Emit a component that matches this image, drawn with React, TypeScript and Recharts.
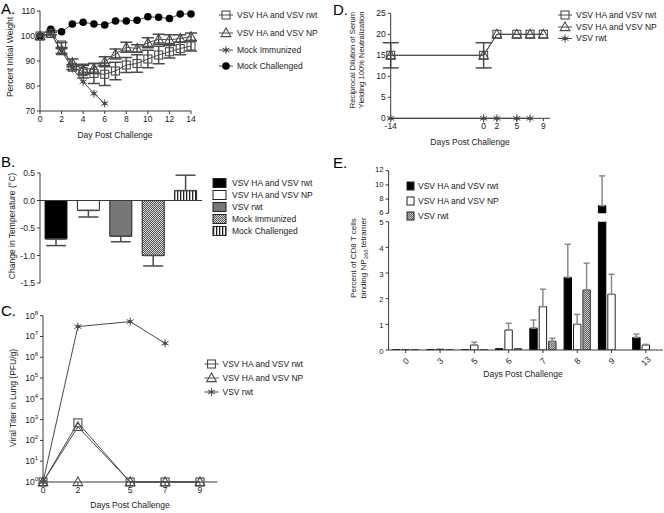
import React from "react";
import {
  Bar,
  BarChart,
  Cell,
  ComposedChart,
  ErrorBar,
  Line,
  ReferenceLine,
  XAxis,
  YAxis,
} from "recharts";

const FONT = "'Liberation Sans', Arial, Helvetica, sans-serif";
const INK = "#1a1a1a";
const AXIS = "#3a3a3a";
const SERIES = "#4a4a4a";
const FS = 8.5;

// ---- A: weight ----
const daysA = [0, 1, 2, 3, 4, 5, 6, 7, 8, 9, 10, 11, 12, 13, 14];
const weightHaRwt = [100, 101, 96.4, 87.5, 85.7, 85, 84.7, 86, 88.4, 89, 90.8, 92.4, 93.7, 95, 96];
const weightHaRwtErr = [0, 0.5, 1, 1, 2.5, 4, 4.5, 3.5, 3, 3.5, 3.5, 3.5, 2.5, 2.5, 2];
const weightHaNp = [100, 101, 94, 89.3, 86.7, 87, 89.7, 92.8, 95.5, 95, 97.3, 98.7, 98.5, 99, 99.7];
const weightHaNpErr = [0, 0.5, 1, 1.5, 2, 2, 2, 2, 2, 1.5, 2, 2, 2, 1.5, 1.5];
const weightMockImm = [100, 101, 94, 87, 81.7, 77, 73];
const weightMockCh = [100, 102.7, 101.7, 104.8, 105.5, 104.8, 104.4, 106, 106, 106.3, 107.7, 107.5, 107, 108.8, 108.8];
const weightTicks = [70, 80, 90, 100, 110];
const dayTicksA = [0, 2, 4, 6, 8, 10, 12, 14];

// ---- B: temperature ----
const groupsB = ["VSV HA  and VSV rwt", "VSV HA and VSV NP", "VSV rwt", "Mock Immunized", "Mock Challenged"];
const tempChange = [-0.7, -0.18, -0.65, -1.0, 0.18];
const tempErr = [0.12, 0.12, 0.1, 0.19, 0.28];
const tempTicks = [-1.5, -1, -0.5, 0, 0.5];
const fillsB = ["#000", "#fff", "#777", "url(#pImm)", "url(#pCh)"];

// ---- C: viral titer ----
const daysC = [0, 2, 5, 7, 9];
const titerHaRwt = [1, 700, 1, 1, 1];
const titerHaNp = [1, 450, 1, 1, 1];
const titerHaNpBase = [null, 1, null, null, null];
const titerRwt = [1, 3e7, 5.2e7, 4.7e6, null];
const titerTicks = [1, 1e1, 1e2, 1e3, 1e4, 1e5, 1e6, 1e7, 1e8];

// ---- D: neutralization ----
const daysD = [-14, 0, 2, 5, 7, 9];
const neutHaRwt = [15, 15, 20, 20, 20, 20];
const neutHaNp = [15, 15, 20, 20, 20, 20];
const neutErr = [3, 3, 0, 0, 0, 0];
const neutRwt = [0, 0, 0, 0, 0, null];
const neutTicks = [0, 5, 10, 15, 20, 25];
const dayTicksD = [-14, 0, 2, 5, 9];

// ---- E: tetramer ----
const daysE = ["0", "3", "5", "6", "7", "8", "9", "13"];
const tetHaRwt = [0.01, 0.02, 0.01, 0.05, 0.85, 2.83, 7.07, 0.49];
const tetHaRwtErr = [0, 0, 0, 0, 0.32, 1.29, 4.2, 0.13];
const tetHaNp = [0.01, 0.03, 0.19, 0.78, 1.69, 1.0, 2.17, 0.19];
const tetHaNpErr = [0, 0, 0.11, 0.26, 0.68, 0.39, 0.78, 0.03];
const tetRwt = [0.01, 0.01, 0.01, 0.05, 0.34, 2.34, null, null];
const tetRwtErr = [0, 0, 0, 0, 0.12, 1.04, 0, 0];
const lowTicksE = [0, 1, 2, 3, 4, 5];
const highTicksE = [6, 8, 10, 12];
const BREAK = 5;

type Kind = "square" | "triangle" | "star" | "circle";

function Glyph({ kind, cx, cy }: { kind: Kind; cx: number; cy: number }) {
  if (kind === "square")
    return <rect x={cx - 4} y={cy - 4} width={8} height={8} fill="none" stroke={SERIES} strokeWidth={1.1} />;
  if (kind === "triangle")
    return (
      <polygon
        points={`${cx},${cy - 5} ${cx - 4.8},${cy + 3.6} ${cx + 4.8},${cy + 3.6}`}
        fill="none"
        stroke={SERIES}
        strokeWidth={1.1}
      />
    );
  if (kind === "circle") return <circle cx={cx} cy={cy} r={3.8} fill="#000" />;
  return (
    <g stroke={SERIES} strokeWidth={1}>
      <line x1={cx} y1={cy - 4} x2={cx} y2={cy + 4} />
      <line x1={cx - 3.5} y1={cy - 2} x2={cx + 3.5} y2={cy + 2} />
      <line x1={cx - 3.5} y1={cy + 2} x2={cx + 3.5} y2={cy - 2} />
      <circle cx={cx} cy={cy} r={1.3} fill={SERIES} />
    </g>
  );
}

const dotOf = (kind: Kind) => (p: any) =>
  p.cx == null || p.cy == null || p.value == null ? (
    <g key={`e${p.index}`} />
  ) : (
    <Glyph key={`d${p.index}`} kind={kind} cx={p.cx} cy={p.cy} />
  );

const tickStyle = { fontSize: FS, fill: INK, fontFamily: FONT };
const axisProps = {
  axisLine: { stroke: AXIS },
  tickLine: { stroke: AXIS },
  tickSize: 3,
  tick: tickStyle,
  interval: 0 as const,
};
const smallTick = { ...tickStyle, fontSize: 7.8 };

const PowTick = (p: any) => {
  const exp = Math.round(Math.log10(p.payload.value));
  return (
    <text x={p.x} y={p.y} dy={3} textAnchor="end" fontSize={FS} fill={INK} fontFamily={FONT}>
      <tspan>10</tspan>
      <tspan dy={-4} fontSize={6}>
        {exp}
      </tspan>
    </text>
  );
};

const SlantTick = (p: any) => (
  <g transform={`translate(${p.x},${p.y + 6}) rotate(-45)`}>
    <text x={0} y={0} dy={3} textAnchor="middle" fontSize={FS} fill={INK} fontFamily={FONT}>
      {p.payload.value}
    </text>
  </g>
);

const lineProps = {
  stroke: SERIES,
  strokeWidth: 1,
  isAnimationActive: false,
  activeDot: false as const,
  type: "linear" as const,
};

function PanelA() {
  const rows = daysA.map((d, i) => ({
    day: d,
    haRwt: weightHaRwt[i],
    haRwtErr: weightHaRwtErr[i],
    haNp: weightHaNp[i],
    haNpErr: weightHaNpErr[i],
    mockImm: weightMockImm[i] ?? null,
    mockCh: weightMockCh[i],
  }));
  return (
    <ComposedChart width={200} height={145} data={rows} margin={{ top: 11, right: 9, bottom: 0, left: 0 }}>
      <XAxis type="number" dataKey="day" domain={[0, 14]} ticks={dayTicksA} height={34} {...axisProps} />
      <YAxis type="number" domain={[70, 110]} ticks={weightTicks} width={40} {...axisProps} />
      <Line dataKey="mockCh" {...lineProps} dot={dotOf("circle")} />
      <Line dataKey="mockImm" {...lineProps} dot={dotOf("star")} />
      <Line dataKey="haRwt" {...lineProps} dot={dotOf("square")}>
        <ErrorBar dataKey="haRwtErr" width={6} stroke={SERIES} direction="y" />
      </Line>
      <Line dataKey="haNp" {...lineProps} dot={dotOf("triangle")}>
        <ErrorBar dataKey="haNpErr" width={6} stroke={SERIES} direction="y" />
      </Line>
    </ComposedChart>
  );
}

function PanelB() {
  const rows = groupsB.map((g, i) => ({
    group: g,
    change: tempChange[i],
    err: tempChange[i] < 0 ? [tempErr[i], 0] : [0, tempErr[i]],
  }));
  return (
    <BarChart width={210} height={125} data={rows} margin={{ top: 8, right: 8, bottom: 7, left: 0 }}>
      <XAxis dataKey="group" hide />
      <YAxis
        type="number"
        domain={[-1.5, 0.5]}
        ticks={tempTicks}
        tickFormatter={(v: number) => v.toFixed(1)}
        width={40}
        {...axisProps}
      />
      <Bar dataKey="change" barSize={22} stroke="#222" strokeWidth={1} isAnimationActive={false}>
        {fillsB.map((f, i) => (
          <Cell key={i} fill={f} />
        ))}
        <ErrorBar dataKey="err" width={10} stroke={SERIES} direction="y" />
      </Bar>
      <ReferenceLine y={0} stroke={AXIS} />
    </BarChart>
  );
}

function PanelC() {
  const rows = daysC.map((d, i) => ({
    day: d,
    haRwt: titerHaRwt[i],
    haNp: titerHaNp[i],
    haNpBase: titerHaNpBase[i],
    rwt: titerRwt[i],
  }));
  return (
    <ComposedChart width={225} height={208} data={rows} margin={{ top: 10.7, right: 7.6, bottom: 0, left: 0 }}>
      <XAxis type="number" dataKey="day" domain={[0, 10]} ticks={daysC} height={31} {...axisProps} />
      <YAxis
        type="number"
        scale="log"
        domain={[1, 1e8]}
        ticks={titerTicks}
        width={43}
        {...axisProps}
        tick={<PowTick />}
      />
      <Line dataKey="rwt" {...lineProps} dot={dotOf("star")} />
      <Line dataKey="haRwt" {...lineProps} dot={dotOf("square")} />
      <Line dataKey="haNp" {...lineProps} dot={dotOf("triangle")} />
      <Line dataKey="haNpBase" {...lineProps} stroke="none" dot={dotOf("triangle")} legendType="none" />
    </ComposedChart>
  );
}

function PanelD() {
  const rows = daysD.map((d, i) => ({
    day: d,
    haRwt: neutHaRwt[i],
    haNp: neutHaNp[i],
    err: neutErr[i],
    rwt: neutRwt[i],
  }));
  return (
    <ComposedChart width={230} height={150} data={rows} margin={{ top: 13.3, right: 10, bottom: 0, left: 0 }}>
      <XAxis type="number" dataKey="day" domain={[-14, 10]} ticks={dayTicksD} height={31.7} {...axisProps} />
      <YAxis type="number" domain={[0, 25]} ticks={neutTicks} width={60.7} {...axisProps} />
      <Line dataKey="rwt" {...lineProps} dot={dotOf("star")} />
      <Line dataKey="haRwt" {...lineProps} dot={dotOf("square")}>
        <ErrorBar dataKey="err" width={8} stroke={SERIES} direction="y" />
      </Line>
      <Line dataKey="haNp" {...lineProps} dot={dotOf("triangle")} />
    </ComposedChart>
  );
}

const errOrNull = (v: number | null, e: number) => (v == null || e <= 0 ? null : [0, e]);

function PanelE() {
  const low = daysE.map((d, i) => ({
    day: d,
    haRwt: tetHaRwt[i],
    haRwtErr: tetHaRwt[i] > BREAK ? null : errOrNull(tetHaRwt[i], tetHaRwtErr[i]),
    haNp: tetHaNp[i],
    haNpErr: errOrNull(tetHaNp[i], tetHaNpErr[i]),
    rwt: tetRwt[i],
    rwtErr: errOrNull(tetRwt[i], tetRwtErr[i]),
  }));
  const high = daysE.map((d, i) => ({
    day: d,
    haRwt: tetHaRwt[i] > BREAK ? tetHaRwt[i] : null,
    haRwtErr: tetHaRwt[i] > BREAK ? errOrNull(tetHaRwt[i], tetHaRwtErr[i]) : null,
    haNp: tetHaNp[i] > BREAK ? tetHaNp[i] : null,
    haNpErr: null,
    rwt: tetRwt[i] != null && (tetRwt[i] as number) > BREAK ? tetRwt[i] : null,
    rwtErr: null,
  }));
  const bars = (
    [
      ["haRwt", "#000", "#000"],
      ["haNp", "#fff", "#222"],
      ["rwt", "url(#pRwt)", "#333"],
    ] as const
  ).map(([k, fill, stroke]) => (
    <Bar key={k} dataKey={k} fill={fill} stroke={stroke} strokeWidth={1} isAnimationActive={false}>
      <ErrorBar dataKey={`${k}Err`} width={3} stroke="#8a8a8a" direction="y" />
    </Bar>
  ));
  return (
    <>
      <div style={{ position: "absolute", left: 330, top: 160 }}>
        <BarChart
          width={334}
          height={60}
          data={high}
          barSize={7.4}
          barGap={2}
          margin={{ top: 10.7, right: 1, bottom: 6.7, left: 0 }}
        >
          <XAxis dataKey="day" hide />
          <YAxis
            type="number"
            domain={[6, 12]}
            ticks={highTicksE}
            allowDataOverflow
            width={58.6}
            {...axisProps}
            tick={{ ...smallTick, dy: -1 }}
          />
          {bars}
        </BarChart>
      </div>
      <div style={{ position: "absolute", left: 330, top: 215 }}>
        <BarChart
          width={334}
          height={170}
          data={low}
          barSize={7.4}
          barGap={2}
          margin={{ top: 6.7, right: 1, bottom: 0, left: 0 }}
        >
          <XAxis dataKey="day" height={35} {...axisProps} tick={<SlantTick />} />
          <YAxis
            type="number"
            domain={[0, 5]}
            ticks={lowTicksE}
            allowDataOverflow
            width={58.6}
            {...axisProps}
            tick={{ ...smallTick, dy: 1 }}
          />
          {bars}
        </BarChart>
      </div>
    </>
  );
}

const VText = ({
  x,
  cy,
  lines,
  size = FS,
}: {
  x: number;
  cy: number;
  lines: React.ReactNode[];
  size?: number;
}) => (
  <text x={x} y={cy} transform={`rotate(-90 ${x} ${cy})`} textAnchor="middle" fontSize={size} fill={INK}>
    {lines.map((l, i) => (
      <tspan key={i} x={x} dy={i === 0 ? 0 : size * 1.3}>
        {l}
      </tspan>
    ))}
  </text>
);

const LineLegend = ({ x, ys, kinds, labels }: { x: number; ys: number[]; kinds: Kind[]; labels: string[] }) => (
  <g>
    {ys.map((y, i) => (
      <g key={i}>
        <line x1={x - 7} x2={x + 7} y1={y} y2={y} stroke={SERIES} />
        <Glyph kind={kinds[i]} cx={x} cy={y} />
        <text x={x + 11} y={y} dy="0.35em" fontSize={FS} fill={INK}>
          {labels[i]}
        </text>
      </g>
    ))}
  </g>
);

const BoxLegend = ({
  x,
  ys,
  w,
  h,
  fills,
  labels,
  gap,
}: {
  x: number;
  ys: number[];
  w: number;
  h: number;
  fills: string[];
  labels: string[];
  gap: number;
}) => (
  <g>
    {ys.map((y, i) => (
      <g key={i}>
        <rect x={x} y={y - h / 2} width={w} height={h} fill={fills[i]} stroke="#222" strokeWidth={1} />
        <text x={x + w + gap} y={y} dy="0.35em" fontSize={FS} fill={INK}>
          {labels[i]}
        </text>
      </g>
    ))}
  </g>
);

const Title = ({ x, y, children }: { x: number; y: number; children: React.ReactNode }) => (
  <text x={x} y={y} dy="0.35em" textAnchor="middle" fontSize={FS} fill={INK}>
    {children}
  </text>
);

export default function App() {
  return (
    <div
      style={{
        position: "absolute",
        left: 0,
        top: 0,
        width: 664,
        height: 513,
        background: "#fff",
        fontFamily: FONT,
        overflow: "hidden",
      }}
    >
      <svg width={0} height={0} style={{ position: "absolute" }}>
        <defs>
          <pattern id="pImm" width={2} height={2} patternUnits="userSpaceOnUse">
            <rect width={2} height={2} fill="#d8d8d8" />
            <rect width={1} height={1} fill="#555" />
            <rect x={1} y={1} width={1} height={1} fill="#555" />
          </pattern>
          <pattern id="pCh" width={3} height={3} patternUnits="userSpaceOnUse">
            <rect width={3} height={3} fill="#fff" />
            <rect width={1.3} height={3} fill="#222" />
          </pattern>
          <pattern id="pRwt" width={2} height={2} patternUnits="userSpaceOnUse">
            <rect width={2} height={2} fill="#c4c4c4" />
            <rect width={1} height={1} fill="#666" />
            <rect x={1} y={1} width={1} height={1} fill="#666" />
          </pattern>
        </defs>
      </svg>

      <div style={{ position: "absolute", left: 0, top: 0 }}>
        <PanelA />
      </div>
      <div style={{ position: "absolute", left: 0, top: 165 }}>
        <PanelB />
      </div>
      <div style={{ position: "absolute", left: 0, top: 305 }}>
        <PanelC />
      </div>
      <div style={{ position: "absolute", left: 330, top: 0 }}>
        <PanelD />
      </div>
      <PanelE />

      <svg
        width={664}
        height={513}
        style={{ position: "absolute", left: 0, top: 0, pointerEvents: "none", fontFamily: FONT }}
      >
        <g fontSize={15} fill="#000">
          <text x={1} y={14}>A.</text>
          <text x={1} y={167}>B.</text>
          <text x={1} y={316}>C.</text>
          <text x={333} y={15}>D.</text>
          <text x={333} y={168}>E.</text>
        </g>

        <Title x={115} y={135}>Day Post Challenge</Title>
        <Title x={130} y={505}>Days Post Challenge</Title>
        <Title x={470} y={141.7}>Days Post Challenge</Title>
        <Title x={523} y={374}>Days Post Challenge</Title>

        <VText x={13} cy={57} lines={["Percent Initial Weight"]} />
        <VText x={15} cy={226} lines={["Change in  Temperature (°C)"]} />
        <VText x={16} cy={398} lines={["Viral Titer in Lung (PFU/g)"]} />
        <VText
          x={354.5}
          cy={60}
          size={7.6}
          lines={["Reciprocal  Dilution of Serum", "Yielding 100% Neutralization"]}
        />
        <VText
          x={356}
          cy={258}
          size={8}
          lines={[
            "Percent of CD8 T cells",
            <>
              binding NP
              <tspan dy={2} fontSize={6}>
                366
              </tspan>
              <tspan dy={-2}> tetramer</tspan>
            </>,
          ]}
        />

        <LineLegend
          x={226}
          ys={[15, 33, 50, 66]}
          kinds={["square", "triangle", "star", "circle"]}
          labels={["VSV HA  and VSV rwt", "VSV HA and VSV NP", "Mock Immunized", "Mock Challenged"]}
        />
        <BoxLegend x={213} ys={[183, 195, 207, 219, 231]} w={13} h={9} gap={6} fills={fillsB} labels={groupsB} />
        <LineLegend
          x={211.5}
          ys={[364, 378, 392]}
          kinds={["square", "triangle", "star"]}
          labels={["VSV HA  and VSV rwt", "VSV HA and VSV NP", "VSV rwt"]}
        />
        <LineLegend
          x={565}
          ys={[15, 27, 38.5]}
          kinds={["square", "triangle", "star"]}
          labels={["VSV HA  and VSV rwt", "VSV HA and VSV NP", "VSV rwt"]}
        />
        <BoxLegend
          x={407}
          ys={[186, 201, 216]}
          w={7}
          h={8}
          gap={4}
          fills={["#000", "#fff", "url(#pRwt)"]}
          labels={["VSV HA  and VSV rwt", "VSV HA and VSV NP", "VSV rwt"]}
        />
      </svg>
    </div>
  );
}
